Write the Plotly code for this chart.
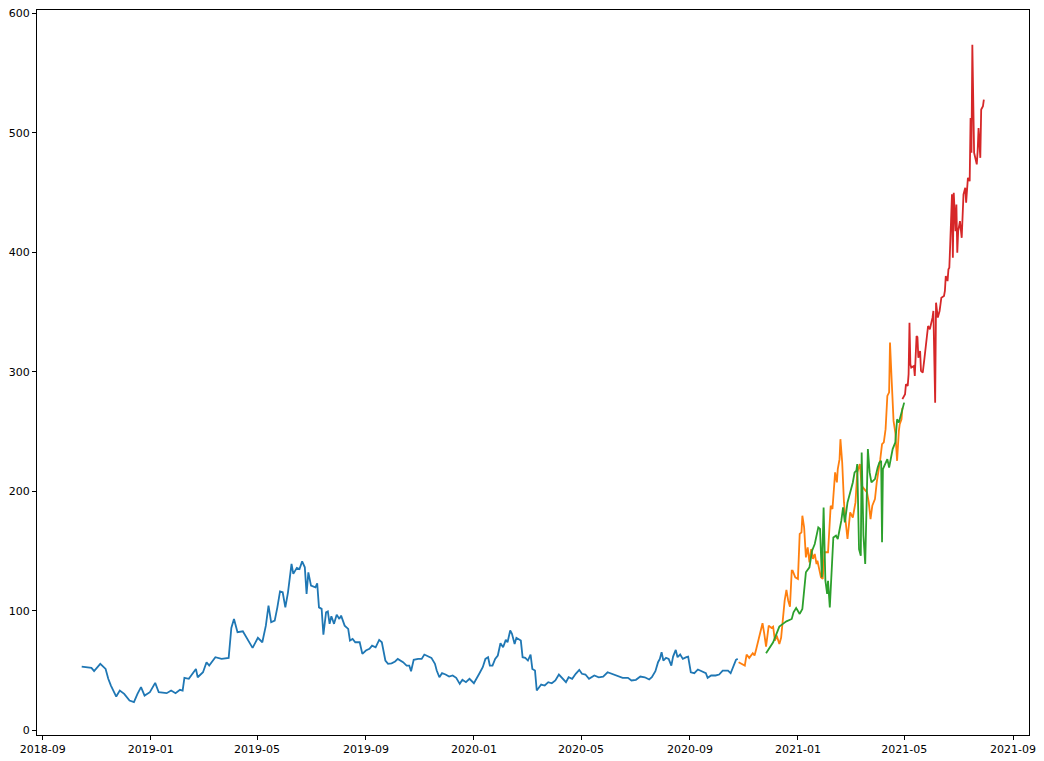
import plotly.graph_objects as go

# blue series (2018-10 .. 2020-10)
blue_dates = [
    "2018-10-15", "2018-10-26", "2018-10-29", "2018-11-05", "2018-11-11", "2018-11-14",
    "2018-11-17", "2018-11-23", "2018-11-27", "2018-12-02", "2018-12-08", "2018-12-13",
    "2018-12-17", "2018-12-21", "2018-12-25", "2018-12-31", "2019-01-06", "2019-01-10",
    "2019-01-19", "2019-01-24", "2019-01-29", "2019-02-03", "2019-02-06", "2019-02-08",
    "2019-02-13", "2019-02-21", "2019-02-23", "2019-03-01", "2019-03-05", "2019-03-08",
    "2019-03-15", "2019-03-22", "2019-03-30", "2019-04-02", "2019-04-05", "2019-04-09",
    "2019-04-15", "2019-04-21", "2019-04-26", "2019-05-02", "2019-05-07", "2019-05-11",
    "2019-05-14", "2019-05-17", "2019-05-21", "2019-05-24", "2019-05-27", "2019-05-30",
    "2019-06-02", "2019-06-05", "2019-06-09", "2019-06-11", "2019-06-15", "2019-06-18",
    "2019-06-21", "2019-06-24", "2019-06-26", "2019-06-28", "2019-07-01", "2019-07-06",
    "2019-07-08", "2019-07-10", "2019-07-13", "2019-07-15", "2019-07-18", "2019-07-20",
    "2019-07-22", "2019-07-24", "2019-07-27", "2019-07-30", "2019-08-02", "2019-08-04",
    "2019-08-08", "2019-08-12", "2019-08-14", "2019-08-17", "2019-08-20", "2019-08-25",
    "2019-08-28", "2019-09-01", "2019-09-05", "2019-09-08", "2019-09-12", "2019-09-16",
    "2019-09-19", "2019-09-23", "2019-09-26", "2019-09-30", "2019-10-04", "2019-10-07",
    "2019-10-13", "2019-10-17", "2019-10-20", "2019-10-22", "2019-10-25", "2019-10-30",
    "2019-11-03", "2019-11-06", "2019-11-10", "2019-11-14", "2019-11-18", "2019-11-20",
    "2019-11-23", "2019-11-26", "2019-11-30", "2019-12-04", "2019-12-08", "2019-12-12",
    "2019-12-16", "2019-12-19", "2019-12-23", "2019-12-27", "2020-01-01", "2020-01-04",
    "2020-01-07", "2020-01-11", "2020-01-14", "2020-01-17", "2020-01-19", "2020-01-22",
    "2020-01-25", "2020-01-28", "2020-01-31", "2020-02-03", "2020-02-06", "2020-02-08",
    "2020-02-11", "2020-02-13", "2020-02-16", "2020-02-18", "2020-02-21", "2020-02-23",
    "2020-02-25", "2020-02-28", "2020-03-02", "2020-03-05", "2020-03-07", "2020-03-10",
    "2020-03-12", "2020-03-15", "2020-03-17", "2020-03-21", "2020-03-25", "2020-03-29",
    "2020-04-02", "2020-04-06", "2020-04-10", "2020-04-14", "2020-04-17", "2020-04-21",
    "2020-04-25", "2020-04-29", "2020-05-02", "2020-05-06", "2020-05-10", "2020-05-16",
    "2020-05-21", "2020-05-26", "2020-05-31", "2020-06-06", "2020-06-12", "2020-06-17",
    "2020-06-23", "2020-06-27", "2020-07-02", "2020-07-07", "2020-07-12", "2020-07-17",
    "2020-07-20", "2020-07-24", "2020-07-27", "2020-07-29", "2020-07-31", "2020-08-02",
    "2020-08-05", "2020-08-08", "2020-08-11", "2020-08-13", "2020-08-16", "2020-08-18",
    "2020-08-21", "2020-08-24", "2020-08-28", "2020-08-30", "2020-09-02", "2020-09-06",
    "2020-09-10", "2020-09-14", "2020-09-19", "2020-09-21", "2020-09-25", "2020-09-30",
    "2020-10-04", "2020-10-08", "2020-10-14", "2020-10-17", "2020-10-20", "2020-10-23",
    "2020-10-25",
]
blue_values = [
    53.5, 52.4, 49.6, 55.7, 51.5, 43.2,
    37.6, 28.4, 33.4, 30.6, 25.0, 23.7,
    30.6, 36.2, 29.2, 32.0, 39.8, 32.0,
    31.2, 33.4, 31.2, 34.0, 33.4, 44.0,
    43.2, 51.5, 44.5, 48.7, 57.1, 54.3,
    61.3, 59.9, 60.7, 85.8, 93.3, 82.2,
    83.0, 75.8, 69.1, 77.5, 73.8, 87.7,
    104.5, 90.5, 91.9, 103.0, 116.4, 115.6,
    103.0, 115.6, 139.3, 131.0, 136.0, 135.1,
    141.5, 136.5, 114.2, 132.3, 121.2, 119.8,
    123.1, 103.0, 101.7, 80.2, 98.9, 99.7,
    89.2, 95.5, 89.2, 96.9, 93.3, 96.1,
    87.7, 85.0, 75.2, 76.6, 73.8, 73.8,
    64.1, 66.9, 68.3, 71.0, 69.6, 75.8,
    73.8, 58.5, 55.7, 56.2, 57.7, 59.9,
    57.1, 54.3, 54.3, 49.6, 59.1, 59.9,
    59.9, 63.5, 61.8, 60.7, 55.7, 50.1,
    44.5, 47.9, 46.8, 45.1, 46.0, 44.0,
    39.0, 42.4, 40.4, 43.2, 39.5, 44.0,
    47.4, 52.9, 59.9, 61.3, 54.3, 54.3,
    59.9, 62.7, 73.0, 69.6, 75.8, 73.8,
    83.6, 80.8, 72.4, 77.5, 75.8, 75.2,
    61.3, 60.7, 58.5, 63.5, 51.5, 50.1,
    33.4, 36.2, 38.4, 37.6, 40.4, 39.5,
    41.8, 46.8, 43.2, 40.4, 44.5, 43.2,
    47.4, 50.7, 47.4, 46.8, 43.2, 46.0,
    44.5, 45.1, 48.7, 46.8, 45.1, 44.0,
    44.0, 41.8, 42.4, 45.1, 44.5, 42.6,
    44.5, 49.6, 57.1, 59.9, 65.4, 58.5,
    60.7, 59.9, 54.3, 61.8, 67.4, 61.3,
    63.5, 59.9, 61.3, 61.8, 48.7, 47.9,
    51.0, 49.6, 47.9, 44.0, 46.0, 46.0,
    46.8, 50.1, 50.1, 47.9, 54.3, 59.1,
    59.9,
]

# orange series (2020-10 .. 2021-04)
orange_dates = [
    "2020-10-26", "2020-10-29", "2020-10-31", "2020-11-02", "2020-11-04", "2020-11-07",
    "2020-11-11", "2020-11-13", "2020-11-15", "2020-11-18", "2020-11-22", "2020-11-24",
    "2020-11-26", "2020-11-29", "2020-12-02", "2020-12-04", "2020-12-06", "2020-12-08",
    "2020-12-11", "2020-12-13", "2020-12-15", "2020-12-17", "2020-12-19", "2020-12-21",
    "2020-12-23", "2020-12-25", "2020-12-26", "2020-12-29", "2021-01-01", "2021-01-03",
    "2021-01-05", "2021-01-06", "2021-01-08", "2021-01-10", "2021-01-12", "2021-01-14",
    "2021-01-16", "2021-01-18", "2021-01-20", "2021-01-22", "2021-01-23", "2021-01-25",
    "2021-01-27", "2021-01-29", "2021-01-31", "2021-02-04", "2021-02-07", "2021-02-09",
    "2021-02-12", "2021-02-14", "2021-02-15", "2021-02-17", "2021-02-18", "2021-02-20",
    "2021-02-22", "2021-02-24", "2021-02-26", "2021-03-01", "2021-03-04", "2021-03-07",
    "2021-03-09", "2021-03-12", "2021-03-14", "2021-03-17", "2021-03-20", "2021-03-22",
    "2021-03-24", "2021-03-26", "2021-03-29", "2021-03-31", "2021-04-02", "2021-04-04",
    "2021-04-06", "2021-04-08", "2021-04-10", "2021-04-12", "2021-04-14", "2021-04-15",
    "2021-04-17", "2021-04-19", "2021-04-21", "2021-04-23", "2021-04-25", "2021-04-26",
    "2021-04-28", "2021-04-29",
]
orange_values = [
    57.1, 55.7, 55.2, 54.3, 63.5, 60.7,
    64.6, 62.7, 68.3, 78.0, 89.7, 80.8,
    70.2, 87.7, 85.8, 86.9, 75.2, 79.4,
    72.4, 77.5, 96.1, 108.6, 117.6, 108.6,
    103.6, 133.7, 133.7, 128.1, 126.8, 164.4,
    165.7, 179.7, 169.9, 144.8, 153.2, 140.6,
    151.8, 143.5, 147.7, 139.3, 142.0, 133.7,
    128.1, 126.8, 149.1, 149.1, 188.0, 185.3,
    215.9, 207.5, 218.7, 227.0, 243.7, 224.2,
    190.8, 174.0, 160.2, 182.4, 178.2, 190.8,
    215.9, 222.9, 204.7, 201.9, 199.1, 190.8,
    176.9, 188.0, 193.6, 207.5, 215.9, 227.0,
    239.6, 241.0, 252.1, 279.9, 282.9, 324.6,
    291.0, 259.0, 249.3, 225.6, 250.7, 256.3,
    260.4, 270.0,
]

# green series (2020-11 .. 2021-05)
green_dates = [
    "2020-11-26", "2020-11-30", "2020-12-04", "2020-12-07", "2020-12-11", "2020-12-15",
    "2020-12-19", "2020-12-25", "2020-12-27", "2020-12-30", "2021-01-03", "2021-01-06",
    "2021-01-08", "2021-01-10", "2021-01-14", "2021-01-17", "2021-01-20", "2021-01-22",
    "2021-01-24", "2021-01-26", "2021-01-28", "2021-01-30", "2021-02-01", "2021-02-03",
    "2021-02-04", "2021-02-06", "2021-02-08", "2021-02-10", "2021-02-13", "2021-02-15",
    "2021-02-19", "2021-02-21", "2021-02-23", "2021-02-26", "2021-03-01", "2021-03-04",
    "2021-03-06", "2021-03-08", "2021-03-09", "2021-03-11", "2021-03-13", "2021-03-14",
    "2021-03-16", "2021-03-18", "2021-03-21", "2021-03-23", "2021-03-25", "2021-03-29",
    "2021-04-01", "2021-04-03", "2021-04-05", "2021-04-06", "2021-04-07", "2021-04-10",
    "2021-04-12", "2021-04-14", "2021-04-18", "2021-04-21", "2021-04-23", "2021-04-25",
    "2021-04-28", "2021-05-01",
]
green_values = [
    64.6, 69.6, 73.8, 79.4, 86.9, 89.2,
    91.3, 93.3, 98.9, 102.5, 97.5, 101.7,
    117.0, 132.3, 136.5, 150.4, 156.0, 164.4,
    169.9, 168.6, 128.1, 186.6, 125.3, 114.2,
    125.3, 103.0, 136.5, 161.5, 163.0, 160.2,
    175.5, 186.6, 174.0, 190.8, 199.1, 207.5,
    215.9, 217.3, 222.9, 151.8, 146.2, 232.6,
    163.0, 139.3, 235.4, 215.9, 207.5, 210.3,
    219.8, 224.2, 225.6, 157.4, 218.7, 224.2,
    227.0, 220.0, 235.4, 241.0, 260.4, 257.6,
    266.0, 274.3,
]

# red series (2021-04 .. 2021-07)
red_dates = [
    "2021-04-29", "2021-05-02", "2021-05-03", "2021-05-05", "2021-05-06", "2021-05-07",
    "2021-05-08", "2021-05-09", "2021-05-12", "2021-05-13", "2021-05-15", "2021-05-16",
    "2021-05-17", "2021-05-19", "2021-05-20", "2021-05-22", "2021-05-24", "2021-05-26",
    "2021-05-28", "2021-05-30", "2021-06-01", "2021-06-02", "2021-06-03", "2021-06-05",
    "2021-06-06", "2021-06-08", "2021-06-10", "2021-06-12", "2021-06-15", "2021-06-16",
    "2021-06-17", "2021-06-19", "2021-06-20", "2021-06-21", "2021-06-22", "2021-06-24",
    "2021-06-25", "2021-06-26", "2021-06-28", "2021-06-29", "2021-06-30", "2021-07-01",
    "2021-07-03", "2021-07-05", "2021-07-07", "2021-07-09", "2021-07-10", "2021-07-12",
    "2021-07-14", "2021-07-15", "2021-07-16", "2021-07-17", "2021-07-19", "2021-07-20",
    "2021-07-22", "2021-07-23", "2021-07-24", "2021-07-26", "2021-07-27", "2021-07-29",
    "2021-07-30",
]
red_values = [
    277.2, 281.4, 289.7, 288.3, 298.1, 341.2,
    306.4, 303.6, 305.0, 296.6, 330.0, 329.2,
    311.9, 317.5, 300.8, 299.4, 311.9, 325.9,
    338.4, 335.7, 341.2, 345.4, 351.0, 274.3,
    357.9, 345.4, 351.0, 362.1, 363.5, 367.7,
    380.2, 376.0, 385.8, 387.2, 406.7, 448.6,
    395.5, 449.9, 417.8, 440.1, 399.7, 417.8,
    426.2, 412.2, 448.6, 454.1, 441.5, 462.4,
    459.6, 512.5, 483.3, 573.8, 483.3, 479.1,
    473.6, 484.7, 504.1, 479.1, 519.5, 522.3,
    527.8,
]

series = [
    (blue_dates, blue_values, "#1f77b4"),
    (orange_dates, orange_values, "#ff7f0e"),
    (green_dates, green_values, "#2ca02c"),
    (red_dates, red_values, "#d62728"),
]

fig = go.Figure()
for dates, values, color in series:
    fig.add_trace(go.Scatter(
        x=dates,
        y=values,
        mode="lines",
        line=dict(color=color, width=1.8),
        showlegend=False,
    ))

axis_style = dict(
    showline=True,
    mirror=True,
    linecolor="black",
    linewidth=1,
    showgrid=False,
    zeroline=False,
    automargin=False,
    ticks="outside",
    ticklen=4,
    tickwidth=1,
    tickcolor="black",
    tickfont=dict(family="DejaVu Sans", size=11, color="black"),
)

fig.update_layout(
    width=1044,
    height=761,
    margin=dict(l=37, r=15, t=10, b=26),
    paper_bgcolor="white",
    plot_bgcolor="white",
    xaxis=dict(
        range=["2018-08-25 12:00", "2021-09-19"],
        tick0="2018-09-01",
        dtick="M4",
        tickformat="%Y-%m",
        **axis_style,
    ),
    yaxis=dict(
        range=[-3.8, 602.8],
        tick0=0,
        dtick=100,
        **axis_style,
    ),
)

fig.write_html(
    "out.html",
    config={"displayModeBar": False},
    post_script="document.body.style.margin='0';",
)
